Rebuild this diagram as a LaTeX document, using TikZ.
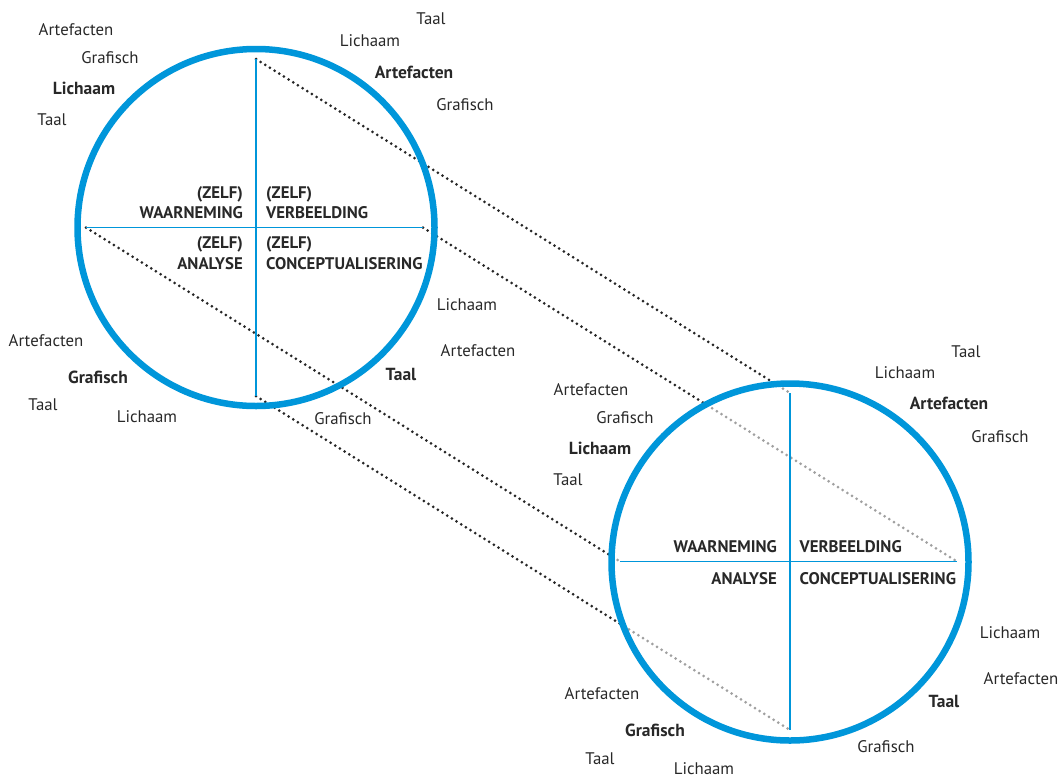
\documentclass[tikz,border=0pt]{standalone}
\usepackage{fontspec}
\setmainfont{PT Sans}
\definecolor{cblue}{RGB}{0,150,218}
\definecolor{ctext}{RGB}{40,40,40}
\definecolor{dotgray}{RGB}{160,160,160}
\begin{document}
\begin{tikzpicture}[x=1pt,y=-1pt,
  lbl/.style={font=\fontsize{16.8}{19}\selectfont, text=ctext, inner sep=0pt, anchor=base},
  blbl/.style={lbl, font=\fontsize{17.5}{19}\selectfont\bfseries},
  capr/.style={font=\fontsize{16.8}{19}\selectfont\bfseries, text=ctext, inner sep=0pt, anchor=base east},
  capl/.style={capr, anchor=base west},
  ring/.style={draw=cblue, line width=6.5pt},
  axis/.style={draw=cblue, line width=1.3pt},
  dotline/.style={line width=3pt, line cap=round, dash pattern=on 0pt off 5.5pt},
]
\useasboundingbox (0,0) rectangle (1062,777);
% centres and axis ends
\coordinate (c1) at (256,227.5);
\coordinate (c2) at (790,562);
\coordinate (a1t) at (256,59);
\coordinate (a1b) at (256,396);
\coordinate (a1l) at (86,227.5);
\coordinate (a1r) at (423,227.5);
\coordinate (a2t) at (790,393);
\coordinate (a2b) at (790,730);
\coordinate (a2l) at (620,561.5);
\coordinate (a2r) at (957,561.5);
% dotted projection lines
\draw[dotline, black!85] (a1t) -- (a2t);
\draw[dotline, black!85] (a1r) -- (a2r);
\draw[dotline, black!85] (a1l) -- (a2l);
\draw[dotline, black!85] (a1b) -- (a2b);
\fill[white] (c2) circle (178.5);
\begin{scope}
  \clip (c2) circle (178.5);
  \draw[dotline, dotgray] (a1t) -- (a2t);
  \draw[dotline, dotgray] (a1r) -- (a2r);
  \draw[dotline, dotgray] (a1l) -- (a2l);
  \draw[dotline, dotgray] (a1b) -- (a2b);
\end{scope}
% axes
\draw[axis] (a1t) -- (a1b);
\draw[axis] (a1l) -- (a1r);
\draw[axis] (a2t) -- (a2b);
\draw[axis] (a2l) -- (a2r);
% rings
\draw[ring] (c1) circle (178.5);
\draw[ring] (c2) circle (178.5);
% inner labels circle 1
\node[capr] (z1a) at (243,198.5) {(ZELF)};
\node[capr] (w1) at (243,218) {WAARNEMING};
\node[capl] (z1b) at (266,198.5) {(ZELF)};
\node[capl] (v1) at (266,218) {VERBEELDING};
\node[capr] (z1c) at (243,248.5) {(ZELF)};
\node[capr] (an1) at (243,269) {ANALYSE};
\node[capl] (z1d) at (266,248.5) {(ZELF)};
\node[capl] (co1) at (266,269) {CONCEPTUALISERING};
% inner labels circle 2
\node[capr] (w2) at (777,552.5) {WAARNEMING};
\node[capl] (v2) at (799.5,552.5) {VERBEELDING};
\node[capr] (an2) at (777,584) {ANALYSE};
\node[capl] (co2) at (799.5,584) {CONCEPTUALISERING};
% outer labels circle 1
\node[lbl] (o1) at (76,35) {Artefacten};
\node[lbl] (o2) at (110,63) {Grafisch};
\node[blbl] (o3) at (84,94) {Lichaam};
\node[lbl] (o4) at (52,125) {Taal};
\node[lbl] (o5) at (431,24) {Taal};
\node[lbl] (o6) at (370,46) {Lichaam};
\node[blbl] (o7) at (414,78) {Artefacten};
\node[lbl] (o8) at (465,110) {Grafisch};
\node[lbl] (o9) at (467,310) {Lichaam};
\node[lbl] (o10) at (478,356) {Artefacten};
\node[blbl] (o11) at (401,380) {Taal};
\node[lbl] (o12) at (343,424) {Grafisch};
\node[lbl] (o13) at (46,346) {Artefacten};
\node[blbl] (o14) at (98,383) {Grafisch};
\node[lbl] (o15) at (43,410) {Taal};
\node[lbl] (o16) at (147,422) {Lichaam};
% outer labels circle 2
\node[lbl] (p1) at (591,395) {Artefacten};
\node[lbl] (p2) at (625,423) {Grafisch};
\node[blbl] (p3) at (600,454) {Lichaam};
\node[lbl] (p4) at (568,485) {Taal};
\node[lbl] (p5) at (966,357) {Taal};
\node[lbl] (p6) at (905,378) {Lichaam};
\node[blbl] (p7) at (949,409) {Artefacten};
\node[lbl] (p8) at (1000,442) {Grafisch};
\node[lbl] (p9) at (1010,638) {Lichaam};
\node[lbl] (p10) at (1021,684) {Artefacten};
\node[blbl] (p11) at (944,707) {Taal};
\node[lbl] (p12) at (886,752) {Grafisch};
\node[lbl] (p13) at (602,699) {Artefacten};
\node[blbl] (p14) at (655,736) {Grafisch};
\node[lbl] (p15) at (600,764) {Taal};
\node[lbl] (p16) at (704,774.5) {Lichaam};
\end{tikzpicture}
\end{document}
